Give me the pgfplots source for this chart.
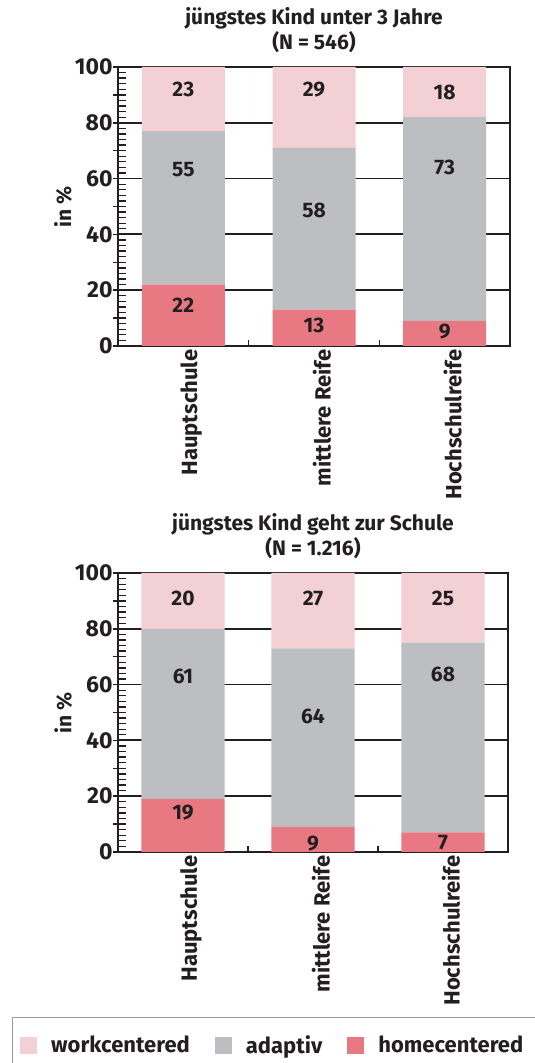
\documentclass[border=0pt]{standalone}
\usepackage{fontspec}
\setmainfont{Fira Sans}[BoldFont={Fira Sans Bold}]
\usepackage{pgfplots}
\usepackage{pgfplotstable}
\pgfplotsset{compat=1.18}

\definecolor{work}{HTML}{F2D0D4}
\definecolor{adap}{HTML}{BDBEC2}
\definecolor{home}{HTML}{E87882}
\definecolor{ink}{HTML}{231F20}

% shares in percent per school degree
\pgfplotstableread{
x home adap work
1 22 55 23
2 13 58 29
3 9  73 18
}\topdata
\pgfplotstableread{
x home adap work
1 19 61 20
2 9  64 27
3 7  68 25
}\botdata
% where the numbers sit inside the bars
\pgfplotstableread{
x y l
1 91.8 23
1 63.4 55
1 14.7 22
2 91.8 29
2 48.7 58
2 7.5 13
3 91.0 18
3 64.0 73
3 5.0 9
}\toplab
\pgfplotstableread{
x y l
1 91.0 20
1 63.0 61
1 14.3 19
2 91.0 27
2 48.7 64
2 3.2 9
3 91.0 25
3 63.8 68
3 3.2 7
}\botlab

\pgfplotsset{
  frame/.style={
    scale only axis, anchor=south west,
    height=279pt,
    xmin=0.5, xmax=3.5, ymin=0, ymax=100,
  },
  bars/.style={
    frame,
    ybar stacked, bar width=83pt,
    axis line style={ink, line width=2.2pt},
    tick style={ink, line width=1.5pt},
    xtick={1,2,3},
    xticklabels={Hauptschule,mittlere Reife,Hochschulreife},
    xtick pos=bottom, ytick pos=left,
    ytick={0,20,...,100},
    tick align=inside,
    major tick length=0pt,
    extra y ticks={0,10,...,100}, extra y tick labels={},
    extra y tick style={tick align=outside, major tick length=5pt, grid=none},
    ymajorgrids, grid style={ink, line width=1.8pt},
    /pgf/number format/assume math mode=true,
    yticklabel style={font=\fontsize{23}{23}\selectfont\bfseries, text=ink, xshift=-2pt},
    xticklabel style={rotate=90, anchor=east, font=\fontsize{22}{22}\selectfont\bfseries, text=ink, yshift=-8pt},
    ylabel={in \%},
    ylabel style={at={(axis description cs:-0.14,0.5)}, anchor=center,
      font=\fontsize{21}{21}\selectfont\bfseries, text=ink},
    title style={at={(0.5,1)}, anchor=south, yshift=5pt, align=center,
      font=\fontsize{21}{25}\selectfont\bfseries, text=ink},
  },
  % fine comb on the inner side of the y axis (every 2 %): an invisible
  % y axis 8pt to the right whose outward ticks reach back to the real one
  combY/.style={
    frame, width=100pt,
    axis x line=none, axis y line*=left,
    y axis line style={draw=none},
    ytick=\empty,
    extra y ticks={0,2,...,100}, extra y tick labels={},
    extra y tick style={tick align=outside, major tick length=8pt, grid=none},
    tick style={ink, line width=1.3pt},
  },
  % small upward ticks between the categories
  combX/.style={
    frame,
    axis y line=none, axis x line*=bottom,
    x axis line style={draw=none},
    xtick=\empty,
    extra x ticks={1.5,2.5}, extra x tick labels={},
    extra x tick style={tick align=outside, major tick length=6pt, grid=none},
    tick style={ink, line width=1.5pt},
  },
  labels/.style={
    frame, hide axis, clip=false,
    nodes near coords, point meta=explicit symbolic,
    nodes near coords align={center},
    every node near coord/.style={font=\fontsize{21}{21}\selectfont\bfseries, text=ink},
  },
}

\begin{document}
\begin{tikzpicture}
% top chart
\begin{axis}[bars, at={(118pt,717pt)}, width=392pt,
  title={jüngstes Kind unter 3 Jahre\\(N = 546)}]
  \addplot[fill=home, draw=none] table[x=x, y=home] {\topdata};
  \addplot[fill=adap, draw=none] table[x=x, y=adap] {\topdata};
  \addplot[fill=work, draw=none] table[x=x, y=work] {\topdata};
\end{axis}
\begin{axis}[combY, at={(126pt,717pt)}]
\end{axis}
\begin{axis}[combX, at={(118pt,723pt)}, width=392pt]
\end{axis}
\begin{axis}[labels, at={(118pt,717pt)}, width=392pt]
  \addplot[draw=none, mark=none] table[x=x, y=y, meta=l] {\toplab};
\end{axis}

% bottom chart
\begin{axis}[bars, at={(118pt,211pt)}, width=390pt,
  title={jüngstes Kind geht zur Schule\\(N = 1.216)},
  reverse legend, legend columns=3,
  legend style={draw=none, fill=none, inner sep=0pt, anchor=west,
    at={(-0.2513,-0.6918)},
    font=\fontsize{22}{22}\selectfont\bfseries, text=ink,
    /tikz/every odd column/.append style={column sep=12pt},
    /tikz/every even column/.append style={column sep=23pt}},
  legend image code/.code={\fill[#1] (0pt,-8.5pt) rectangle (17pt,8.5pt);}]
  \addplot[fill=home, draw=none] table[x=x, y=home] {\botdata};
  \addlegendentry{homecentered}
  \addplot[fill=adap, draw=none] table[x=x, y=adap] {\botdata};
  \addlegendentry{adaptiv}
  \addplot[fill=work, draw=none] table[x=x, y=work] {\botdata};
  \addlegendentry{workcentered}
\end{axis}
\begin{axis}[combY, at={(126pt,211pt)}]
\end{axis}
\begin{axis}[combX, at={(118pt,217pt)}, width=390pt]
\end{axis}
\begin{axis}[labels, at={(118pt,211pt)}, width=390pt]
  \addplot[draw=none, mark=none] table[x=x, y=y, meta=l] {\botlab};
\end{axis}

% legend frame, running off the page like in the source
\draw[gray!80, line width=1pt] (12pt,-20pt) rectangle (560pt,45pt);

\pgfresetboundingbox
\path[use as bounding box] (0pt,0pt) rectangle (535pt,1063pt);
\end{tikzpicture}
\end{document}
